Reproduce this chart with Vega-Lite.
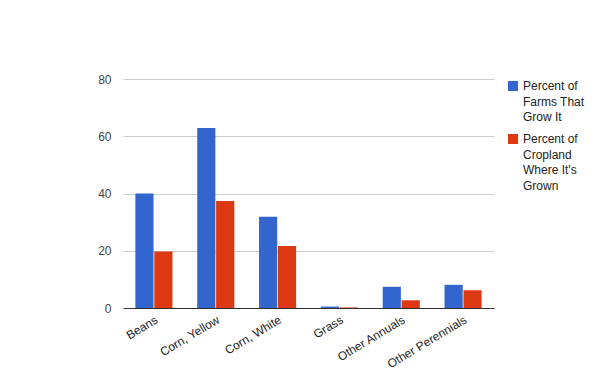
{
  "$schema": "https://vega.github.io/schema/vega-lite/v6.json",
  "width": 371,
  "height": 229,
  "autosize": "none",
  "padding": {"left": 123, "top": 79, "right": 106, "bottom": 63},
  "background": "white",
  "config": {"view": {"stroke": null}, "font": "Liberation Sans", "style": {"guide-label": {"lineHeight": 15.5}}},
  "data": {
    "values": [
      {"crop": "Beans", "series": "Percent of Farms That Grow It", "value": 40.0},
      {"crop": "Beans", "series": "Percent of Cropland Where It's Grown", "value": 19.7},
      {"crop": "Corn, Yellow", "series": "Percent of Farms That Grow It", "value": 62.9},
      {"crop": "Corn, Yellow", "series": "Percent of Cropland Where It's Grown", "value": 37.4},
      {"crop": "Corn, White", "series": "Percent of Farms That Grow It", "value": 31.9},
      {"crop": "Corn, White", "series": "Percent of Cropland Where It's Grown", "value": 21.7},
      {"crop": "Grass", "series": "Percent of Farms That Grow It", "value": 0.5},
      {"crop": "Grass", "series": "Percent of Cropland Where It's Grown", "value": 0.2},
      {"crop": "Other Annuals", "series": "Percent of Farms That Grow It", "value": 7.4},
      {"crop": "Other Annuals", "series": "Percent of Cropland Where It's Grown", "value": 2.7},
      {"crop": "Other Perennials", "series": "Percent of Farms That Grow It", "value": 8.1},
      {"crop": "Other Perennials", "series": "Percent of Cropland Where It's Grown", "value": 6.2}
    ]
  },
  "mark": {"type": "bar"},
  "encoding": {
    "x": {
      "field": "crop", "type": "nominal", "sort": null,
      "scale": {"paddingInner": 0.4, "paddingOuter": 0.2},
      "axis": {"title": null, "labelAngle": -31, "labelAlign": "right", "labelBaseline": "top", "ticks": false, "labelFontSize": 12, "labelColor": "#222", "domainColor": "#333", "labelPadding": 6}
    },
    "xOffset": {"field": "series", "type": "nominal", "sort": null, "scale": {"paddingInner": 0.04}},
    "y": {
      "field": "value", "type": "quantitative",
      "scale": {"domain": [0, 80]},
      "axis": {"title": null, "values": [0, 20, 40, 60, 80], "domain": false, "ticks": false, "gridColor": "#cccccc", "labelFontSize": 12, "labelColor": "#444", "labelPadding": 12}
    },
    "color": {
      "field": "series", "type": "nominal", "sort": null,
      "scale": {"range": ["#3366cc", "#dc3912"]},
      "legend": {
        "title": null, "orient": "none", "legendX": 384, "legendY": 1,
        "symbolType": "square", "symbolSize": 100, "symbolStrokeWidth": 0,
        "labelFontSize": 12, "labelColor": "#222", "labelLimit": 200,
        "labelExpr": "datum.label == 'Percent of Farms That Grow It' ? ['Percent of', 'Farms That', 'Grow It'] : ['Percent of', 'Cropland', 'Where It\\'s', 'Grown']",
        "rowPadding": 10
      }
    }
  }
}
